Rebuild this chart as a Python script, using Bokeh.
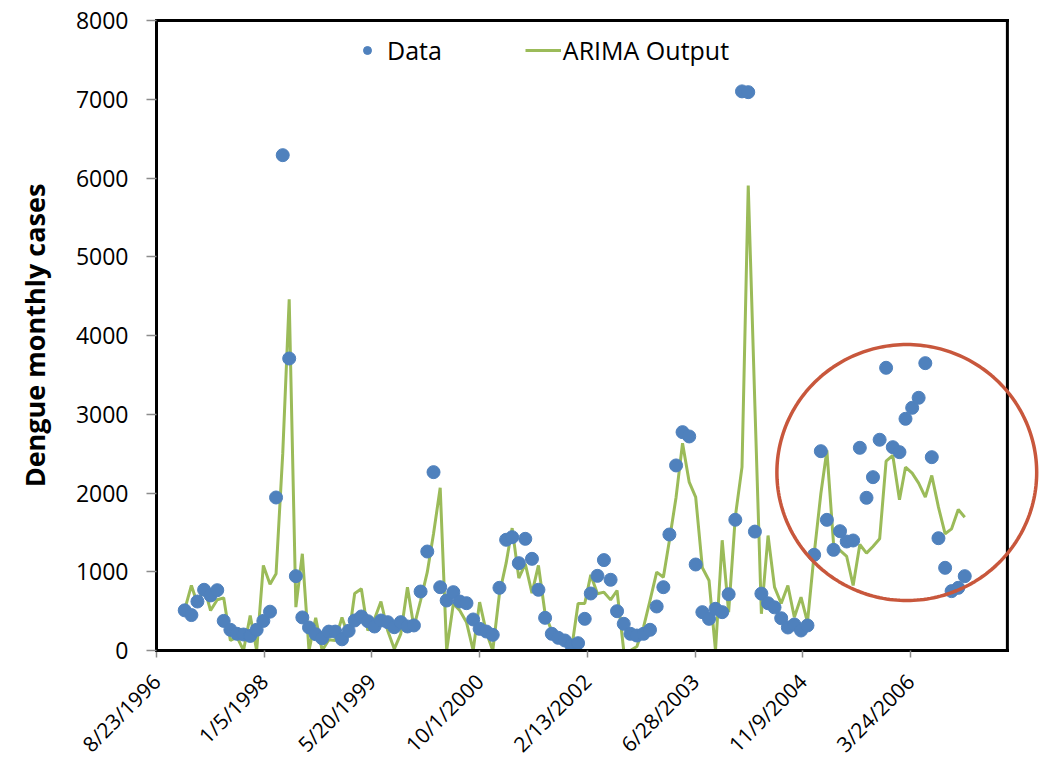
import math
from datetime import datetime, timedelta

import numpy as np
import pandas as pd
from bokeh.plotting import figure
from bokeh.models import (ColumnDataSource, FixedTicker, Legend, LegendItem,
                          Range1d, PolyAnnotation, Span, DatetimeAxis)
from bokeh.embed import file_html
from bokeh.resources import INLINE

# Monthly dengue case counts, January 1997 - December 2006
months = pd.date_range("1997-01-01", periods=120, freq="MS")

cases = [
    510, 450, 622, 771, 699, 766, 376, 263, 212, 203, 185, 263,
    376, 493, 1943, 6290, 3708, 944, 420, 292, 207, 155, 240, 240,
    142, 250, 381, 432, 372, 305, 381, 360, 296, 360, 305, 318,
    749, 1257, 2265, 804, 635, 741, 622, 601, 394, 275, 241, 199,
    796, 1406, 1439, 1109, 1418, 1164, 771, 415, 212, 161, 127, 64,
    93, 402, 724, 948, 1148, 898, 499, 339, 212, 190, 212, 263,
    559, 804, 1473, 2350, 2773, 2718, 1092, 487, 402, 529, 487, 715,
    1660, 7100, 7090, 1510, 722, 600, 548, 410, 292, 330, 254, 318,
    1215, 2531, 1659, 1278, 1515, 1384, 1397, 2574, 1939, 2201, 2676, 3590,
    2582, 2519, 2942, 3082, 3209, 3649, 2455, 1426, 1050, 754, 796, 944,
]

arima = [
    520, 826, 593, 804, 508, 644, 669, 127, 169, 0, 445, 0,
    1080, 840, 974, 2500, 4460, 550, 1228, 0, 415, 0, 136, 127,
    420, 169, 724, 783, 254, 400, 622, 254, 20, 212, 804, 296,
    635, 995, 1482, 2066, 0, 593, 508, 360, 0, 614, 233, 0,
    720, 1109, 1554, 919, 1101, 728, 1080, 466, 245, 161, 136, 0,
    597, 597, 960, 720, 741, 643, 762, 0, 0, 50, 296, 635,
    995, 931, 1397, 1947, 2633, 2138, 1947, 1050, 889, 0, 1400, 487,
    1700, 2328, 5905, 3100, 466, 1460, 804, 597, 826, 423, 677, 360,
    1228, 1990, 2540, 1355, 1270, 1194, 826, 1346, 1236, 1321, 1418, 2404,
    2477, 1914, 2328, 2252, 2125, 1947, 2222, 1820, 1482, 1545, 1791, 1693,
]

tick_labels = ["8/23/1996", "1/5/1998", "5/20/1999", "10/1/2000",
               "2/13/2002", "6/28/2003", "11/9/2004", "3/24/2006"]
y_ticks = [0, 1000, 2000, 3000, 4000, 5000, 6000, 7000, 8000]

FONT = "Open Sans"
BLUE = "#4F81BD"
GREEN = "#9BBB59"
RING = "#C8573C"
FRAME_W = 3

epoch = datetime(1970, 1, 1)
def to_ms(d):
    return (d - epoch).total_seconds() * 1000.0

tick_dates = [datetime.strptime(t, "%m/%d/%Y") for t in tick_labels]
tick_ms = [to_ms(d) for d in tick_dates]

# boxed chart area spans 3950 days; the canvas continues to the right so the
# highlight ring can run past the box edge
box_start = datetime(1996, 8, 23)
box_end = box_start + timedelta(days=3950)
canvas_end = box_start + timedelta(days=4113)

source = ColumnDataSource(data=dict(month=months, cases=cases, arima=arima))

p = figure(width=1044, height=770, x_axis_type="datetime",
           x_range=Range1d(box_start, canvas_end), y_range=Range1d(0, 8000),
           output_backend="svg", toolbar_location=None,
           min_border_left=156, min_border_right=2,
           min_border_top=20, min_border_bottom=120)

p.background_fill_color = "white"
p.border_fill_color = "white"
p.outline_line_color = None
p.xgrid.visible = False
p.ygrid.visible = False

xax = p.xaxis[0]
yax = p.yaxis[0]

xax.ticker = FixedTicker(ticks=tick_ms)
xax.major_label_overrides = {ms: lbl for ms, lbl in zip(tick_ms, tick_labels)}
xax.major_label_orientation = math.pi / 4
xax.bounds = (to_ms(box_start), to_ms(box_end))
yax.ticker = FixedTicker(ticks=y_ticks)

for ax in (xax, yax):
    ax.axis_line_color = "black"
    ax.axis_line_width = FRAME_W
    ax.axis_line_cap = "square"
    ax.major_tick_line_color = "#8c8c8c"
    ax.major_tick_line_width = 1.5
    ax.major_tick_in = 0
    ax.minor_tick_line_color = None
    ax.major_label_text_font = FONT
    ax.major_label_text_color = "black"

yax.major_label_text_font_size = "23px"
yax.major_tick_out = 10
yax.major_label_standoff = 18
xax.major_label_text_font_size = "21px"
xax.major_tick_out = 7
xax.major_label_standoff = 20

yax.axis_label = "Dengue monthly cases"
yax.axis_label_text_font = FONT
yax.axis_label_text_font_style = "bold"
yax.axis_label_text_font_size = "27px"
yax.axis_label_text_color = "black"
yax.axis_label_standoff = 20

# top and right edges of the chart box
top_edge = DatetimeAxis(bounds=(to_ms(box_start), to_ms(box_end)),
                        ticker=FixedTicker(ticks=[]),
                        axis_line_color="black", axis_line_width=FRAME_W,
                        axis_line_cap="square",
                        major_tick_line_color=None, minor_tick_line_color=None,
                        major_label_text_font_size="0px")
p.add_layout(top_edge, "above")
p.add_layout(Span(location=to_ms(box_end), dimension="height",
                  line_color="black", line_width=FRAME_W))

# series
line_r = p.line("month", "arima", source=source, line_color=GREEN, line_width=3)
dots_r = p.scatter("month", "cases", source=source, size=13,
                   fill_color=BLUE, line_color=BLUE)

# highlight ring around the 2005-2006 season
ring_center_x = to_ms(datetime(2006, 3, 7))
ring_center_y = 2260
ring_rx = 603 * 86400000.0
ring_ry = 1625
theta = np.linspace(0, 2 * np.pi, 241)
ring = PolyAnnotation(xs=list(ring_center_x + ring_rx * np.cos(theta)),
                      ys=list(ring_center_y + ring_ry * np.sin(theta)),
                      fill_alpha=0, line_color=RING, line_alpha=1.0,
                      line_width=3.5)
p.add_layout(ring)

legend = Legend(items=[LegendItem(label="Data", renderers=[dots_r]),
                       LegendItem(label="ARIMA Output", renderers=[line_r])],
                location=(193, 583), orientation="horizontal",
                glyph_width=36, glyph_height=20, label_standoff=2, spacing=83,
                padding=0, margin=0, border_line_color=None,
                background_fill_alpha=0,
                label_text_font=FONT, label_text_font_size="25px",
                label_text_color="black")
p.add_layout(legend)

open("out.html", "w").write(file_html(p, INLINE))
